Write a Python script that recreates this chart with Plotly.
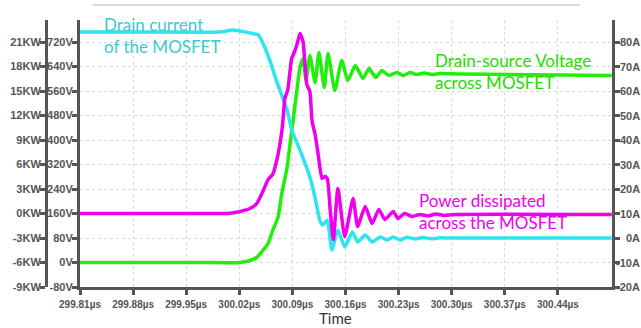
import plotly.graph_objects as go

# ---- data ----
# Drain current (A) - right axis
cur_t = [299.810, 299.900, 299.995, 300.012, 300.034, 300.045, 300.051, 300.060, 300.070, 300.083,
         300.089, 300.100, 300.113, 300.120, 300.126, 300.130, 300.136, 300.142, 300.150, 300.159,
         300.169, 300.176, 300.186, 300.195, 300.206, 300.215, 300.223, 300.232, 300.241, 300.252,
         300.262, 300.273, 300.285, 300.298, 300.511]
cur_a = [84.1, 84.1, 84.1, 84.9, 83.7, 82.9, 79.6, 72.7, 63.3, 52.2,
         44.1, 35.9, 24.9, 16.3, 7.3, 5.3, 7.3, -4.9, 3.3, -3.7,
         2.4, -1.6, 1.2, -1.6, 0.4, -0.8, 0.4, -0.8, 0.3, -0.4,
         0.2, -0.3, 0.1, 0.0, 0.0]

# Drain-source voltage (V) - inner left axis
vds_t = [299.810, 299.968, 300.021, 300.034, 300.043, 300.051, 300.058, 300.064, 300.071, 300.076,
         300.083, 300.087, 300.091, 300.093, 300.097, 300.100, 300.104, 300.108, 300.113, 300.120,
         300.125, 300.132, 300.137, 300.146, 300.155, 300.163, 300.173, 300.183, 300.191, 300.200,
         300.208, 300.217, 300.228, 300.236, 300.245, 300.254, 300.264, 300.274, 300.285, 300.311,
         300.511]
vds_v = [0, 0, 0, 6.5, 16.3, 39.2, 62.0, 104.5, 146.9, 225.3,
         310.2, 388.6, 463.7, 506.1, 584.5, 636.7, 666.1, 594.3, 675.9, 587.8,
         685.7, 571.4, 682.4, 561.6, 659.6, 594.3, 643.3, 600.8, 633.5, 604.1,
         626.9, 610.6, 620.4, 610.6, 620.4, 613.9, 618.8, 613.9, 617.1, 615.5,
         610.6]

# Power dissipated (KW) - outer left axis
pow_t = [299.810, 299.968, 300.005, 300.021, 300.034, 300.043, 300.051, 300.058, 300.064, 300.071,
         300.076, 300.078, 300.080, 300.084, 300.089, 300.093, 300.096, 300.100, 300.104, 300.107,
         300.109, 300.113, 300.116, 300.120, 300.124, 300.129, 300.133, 300.136, 300.140, 300.144,
         300.150, 300.159, 300.170, 300.176, 300.186, 300.195, 300.204, 300.212, 300.223, 300.229,
         300.238, 300.248, 300.258, 300.269, 300.279, 300.290, 300.304, 300.511]
pow_kw = [0, 0, 0, 0.24, 0.61, 1.22, 2.69, 4.16, 4.78, 7.22,
          10.04, 11.88, 14.08, 15.18, 18.98, 19.84, 20.69, 22.04, 21.06, 17.76,
          15.80, 14.94, 11.27, 9.67, 7.22, 4.29, 4.53, 4.29, 0.24, -3.18,
          3.06, -2.82, 1.84, -1.59, 0.86, -1.22, 0.49, -0.73, 0.24, -0.61,
          0.0, -0.37, -0.12, -0.31, -0.06, -0.24, -0.12, -0.12]

# ticks
x_ticks = [299.81, 299.88, 299.95, 300.02, 300.09, 300.16, 300.23, 300.30, 300.37, 300.44]
x_labels = ["299.81µs", "299.88µs", "299.95µs", "300.02µs", "300.09µs", "300.16µs",
            "300.23µs", "300.30µs", "300.37µs", "300.44µs"]
v_ticks = [-80, 0, 80, 160, 240, 320, 400, 480, 560, 640, 720]
v_labels = ["-80V", "0V", "80V", "160V", "240V", "320V", "400V", "480V", "560V", "640V", "720V"]
kw_ticks = [-9, -6, -3, 0, 3, 6, 9, 12, 15, 18, 21]
kw_labels = ["-9KW", "-6KW", "-3KW", "0KW", "3KW", "6KW", "9KW", "12KW", "15KW", "18KW", "21KW"]
a_ticks = [-20, -10, 0, 10, 20, 30, 40, 50, 60, 70, 80]
a_labels = ["-20A", "-10A", "0A", "10A", "20A", "30A", "40A", "50A", "60A", "70A", "80A"]

# ---- styling ----
W, H = 641, 328
PL, PR, PT, PB = 80, 612, 20, 287
CYAN = "#2ee4ef"
GREEN = "#22ee0c"
MAG = "#ee00ee"
AX = "#555555"
tickfont = dict(family="Liberation Sans", size=11, color=AX, weight="bold")
xtickfont = dict(family="Liberation Sans", size=10, color=AX, weight="bold")
txtfont = "Lato"

fig = go.Figure()
fig.add_trace(go.Scatter(x=cur_t, y=cur_a, yaxis="y2", mode="lines",
                         line=dict(color=CYAN, width=3.5, shape="spline", smoothing=0.5),
                         hoverinfo="skip", showlegend=False))
fig.add_trace(go.Scatter(x=vds_t, y=vds_v, yaxis="y", mode="lines",
                         line=dict(color=GREEN, width=3.5, shape="spline", smoothing=0.5),
                         hoverinfo="skip", showlegend=False))
fig.add_trace(go.Scatter(x=pow_t, y=pow_kw, yaxis="y3", mode="lines",
                         line=dict(color=MAG, width=3.5, shape="spline", smoothing=0.5),
                         hoverinfo="skip", showlegend=False))

ydom = [(H - PB) / H, (H - PT) / H]
frac = (PB - PT) / 24.5  # number of tick intervals spanned

axis_common = dict(showline=True, linewidth=3, linecolor=AX, ticks="outside", ticklen=5,
                   tickwidth=3, tickcolor=AX, zeroline=False, tickfont=tickfont,
                   automargin=False)

fig.update_layout(
    width=W, height=H,
    margin=dict(l=0, r=0, t=0, b=0, autoexpand=False),
    paper_bgcolor="white", plot_bgcolor="white",
    xaxis=dict(domain=[PL / W, PR / W],
               range=[299.81, 299.81 + (PR - PL) / 53.1 * 0.07],
               tickvals=x_ticks, ticktext=x_labels,
               showgrid=True, gridcolor="#d9d9d9", griddash="dot", gridwidth=1,
               ticklabelstandoff=1,
               **{**axis_common, "tickfont": xtickfont}),
    yaxis=dict(domain=ydom, range=[-80, -80 + frac * 80],
               tickvals=v_ticks, ticktext=v_labels, side="left",
               showgrid=True, gridcolor="#d9d9d9", griddash="dot", gridwidth=1,
               ticklabelstandoff=-3,
               **axis_common),
    yaxis2=dict(overlaying="y", side="right", anchor="x",
                range=[-20, -20 + frac * 10],
                tickvals=a_ticks, showticklabels=False, showgrid=False,
                **axis_common),
    yaxis3=dict(overlaying="y", side="left", anchor="free", position=46 / W,
                range=[-9, -9 + frac * 3],
                tickvals=kw_ticks, ticktext=kw_labels, showgrid=False,
                ticklabelstandoff=-3,
                **axis_common),
)

def px(x):
    return x / W

def py(y):
    return (H - y) / H

# right-axis labels, right-aligned at the page edge, placed on the y2 scale
for v, lab in zip(a_ticks, a_labels):
    fig.add_annotation(xref="paper", yref="y2", x=1.0, y=v, xanchor="right", yanchor="middle",
                       text=lab, showarrow=False, borderpad=0,
                       font=tickfont)

fig.add_annotation(xref="paper", yref="paper", x=px(102), y=py(36), xanchor="left", yanchor="middle",
                   text="Drain current<br>of the MOSFET", align="left", showarrow=False,
                   font=dict(family=txtfont, size=17, color="#3cc9d2"))
fig.add_annotation(xref="paper", yref="paper", x=px(433), y=py(71.5), xanchor="left", yanchor="middle",
                   text="Drain-source Voltage<br>across MOSFET", align="left", showarrow=False,
                   font=dict(family=txtfont, size=17, color="#22dd00"))
fig.add_annotation(xref="paper", yref="paper", x=px(417), y=py(211.5), xanchor="left", yanchor="middle",
                   text="Power dissipated<br>across the MOSFET", align="left", showarrow=False,
                   font=dict(family=txtfont, size=17, color=MAG))
fig.add_annotation(xref="paper", yref="paper", x=px(335), y=0, xanchor="center", yanchor="bottom",
                   text="Time", showarrow=False, borderpad=0,
                   font=dict(family=txtfont, size=15, color="#333333"))

fig.add_shape(type="line", xref="paper", yref="paper", x0=px(93), x1=px(580), y0=py(5), y1=py(5),
              line=dict(color="#cccccc", width=1.5))

fig.write_html("out.html")
